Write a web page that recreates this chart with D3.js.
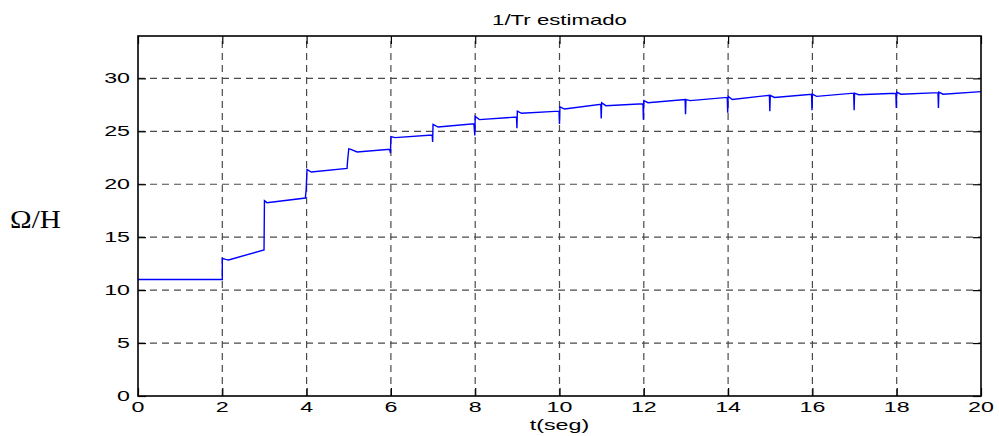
<!DOCTYPE html>
<html>
<head>
<meta charset="utf-8">
<script src="https://cdn.jsdelivr.net/npm/d3@7"></script>
<style>
  html, body { margin: 0; padding: 0; background: #fff; }
  svg { display: block; }
</style>
</head>
<body>
<svg id="chart" width="999" height="436"></svg>
<script>
// Estimated rotor time-constant inverse (1/Tr) over time
const timeSec = [
  0, 2.0, 2.0, 2.08, 2.15, 2.99, 3.0, 3.06, 3.97, 3.99, 4.01, 4.11, 4.96, 4.97,
  5.0, 5.05, 5.2, 5.97, 5.99, 6.0, 6.1, 6.98, 6.99, 7.0, 7.12, 7.97, 7.99, 8.0,
  8.1, 8.98, 8.99, 9.0, 9.1, 9.99, 10.0, 10.01, 10.12, 10.98, 10.99, 11.0, 11.1,
  11.98, 11.99, 12.0, 12.1, 12.98, 12.99, 13.0, 13.1, 13.98, 13.99, 14.0, 14.1,
  14.98, 14.99, 15.0, 15.1, 15.98, 15.99, 16.0, 16.1, 16.98, 16.99, 17.0, 17.1,
  17.98, 17.99, 18.0, 18.1, 18.98, 18.99, 19.0, 19.1, 20.0
];
const invTr = [
  11.0, 11.0, 13.0, 12.9, 12.85, 13.8, 18.45, 18.26, 18.7, 19.5, 21.4, 21.15, 21.5, 22.1,
  23.35, 23.3, 23.05, 23.3, 22.95, 24.5, 24.4, 24.65, 24.0, 25.65, 25.4, 25.7, 24.6, 26.4,
  26.1, 26.35, 25.3, 26.9, 26.7, 26.9, 25.7, 27.3, 27.1, 27.55, 26.2, 27.7, 27.42,
  27.6, 26.1, 27.9, 27.7, 28.0, 26.6, 28.0, 27.9, 28.2, 26.75, 28.3, 28.0,
  28.4, 26.9, 28.4, 28.2, 28.5, 27.0, 28.5, 28.3, 28.6, 27.0, 28.6, 28.45,
  28.6, 27.2, 28.7, 28.5, 28.65, 27.2, 28.7, 28.5, 28.75
];

const xTicks = [0, 2, 4, 6, 8, 10, 12, 14, 16, 18, 20];
const yTicks = [0, 5, 10, 15, 20, 25, 30];
const titleText = "1/Tr estimado";
const xLabelText = "t(seg)";
const yLabelText = "\u03A9/H";

// Frame of the plotting area
const box = { left: 138, right: 981, top: 36, bottom: 396 };
const tickLen = 8;
const sansStretch = 1.55;   // wide Helvetica-style labels

const x = d3.scaleLinear().domain([0, 20]).range([box.left, box.right]);
const y = d3.scaleLinear().domain([0, 34]).range([box.bottom, box.top]);

const svg = d3.select("#chart");

// Dashed grid
const grid = svg.append("g")
  .attr("stroke", "#4a4a4a")
  .attr("stroke-width", 1.2)
  .attr("stroke-dasharray", "7,5")
  .attr("fill", "none");

grid.selectAll("line.gx")
  .data(xTicks.filter(d => d > 0 && d < 20))
  .join("line")
  .attr("class", "gx")
  .attr("x1", d => x(d))
  .attr("x2", d => x(d))
  .attr("y1", box.bottom)
  .attr("y2", box.top);

grid.selectAll("line.gy")
  .data(yTicks.filter(d => d > 0))
  .join("line")
  .attr("class", "gy")
  .attr("y1", d => y(d))
  .attr("y2", d => y(d))
  .attr("x1", box.left)
  .attr("x2", box.right);

// Series
const series = timeSec.map((t, i) => ({ t, v: invTr[i] }));
svg.append("path")
  .datum(series)
  .attr("fill", "none")
  .attr("stroke", "#0000ff")
  .attr("stroke-width", 1.4)
  .attr("stroke-linejoin", "miter")
  .attr("d", d3.line().x(d => x(d.t)).y(d => y(d.v)));

// Inward ticks on all four sides, via d3 axes
const noLabels = () => "";
svg.append("g")
  .attr("transform", `translate(0,${box.bottom})`)
  .call(d3.axisBottom(x).tickValues(xTicks).tickSizeInner(-tickLen).tickSizeOuter(0).tickFormat(noLabels));
svg.append("g")
  .attr("transform", `translate(0,${box.top})`)
  .call(d3.axisTop(x).tickValues(xTicks).tickSizeInner(-tickLen).tickSizeOuter(0).tickFormat(noLabels));
svg.append("g")
  .attr("transform", `translate(${box.left},0)`)
  .call(d3.axisLeft(y).tickValues(yTicks).tickSizeInner(-tickLen).tickSizeOuter(0).tickFormat(noLabels));
svg.append("g")
  .attr("transform", `translate(${box.right},0)`)
  .call(d3.axisRight(y).tickValues(yTicks).tickSizeInner(-tickLen).tickSizeOuter(0).tickFormat(noLabels));
svg.selectAll(".domain").remove();
svg.selectAll(".tick line").attr("stroke", "#000").attr("stroke-width", 1.2);

// Box
svg.append("rect")
  .attr("x", box.left)
  .attr("y", box.top)
  .attr("width", box.right - box.left)
  .attr("height", box.bottom - box.top)
  .attr("fill", "none")
  .attr("stroke", "#000")
  .attr("stroke-width", 1.6);

// Tick labels
const sans = "'Liberation Sans', Arial, Helvetica, sans-serif";

svg.append("g").selectAll("text")
  .data(xTicks)
  .join("text")
  .attr("transform", d => `translate(${x(d)},${box.bottom + 16}) scale(${sansStretch},1)`)
  .attr("text-anchor", "middle")
  .attr("font-family", sans)
  .attr("font-size", 15)
  .attr("fill", "#000")
  .text(d => d);

svg.append("g").selectAll("text")
  .data(yTicks)
  .join("text")
  .attr("transform", d => `translate(${box.left - 8},${y(d) + 5}) scale(${sansStretch},1)`)
  .attr("text-anchor", "end")
  .attr("font-family", sans)
  .attr("font-size", 15)
  .attr("fill", "#000")
  .text(d => d);

// Title and axis labels
svg.append("text")
  .attr("transform", `translate(${(box.left + box.right) / 2},25) scale(1.48,1)`)
  .attr("text-anchor", "middle")
  .attr("font-family", sans)
  .attr("font-size", 15)
  .attr("fill", "#000")
  .text(titleText);

svg.append("text")
  .attr("transform", `translate(${(box.left + box.right) / 2},430) scale(${sansStretch},1)`)
  .attr("text-anchor", "middle")
  .attr("font-family", sans)
  .attr("font-size", 15)
  .attr("fill", "#000")
  .text(xLabelText);

svg.append("text")
  .attr("transform", `translate(10,228) scale(1.12,1)`)
  .attr("text-anchor", "start")
  .attr("font-family", "'Liberation Serif', 'Times New Roman', serif")
  .attr("font-size", 26)
  .attr("fill", "#000")
  .text(yLabelText);
</script>
</body>
</html>
